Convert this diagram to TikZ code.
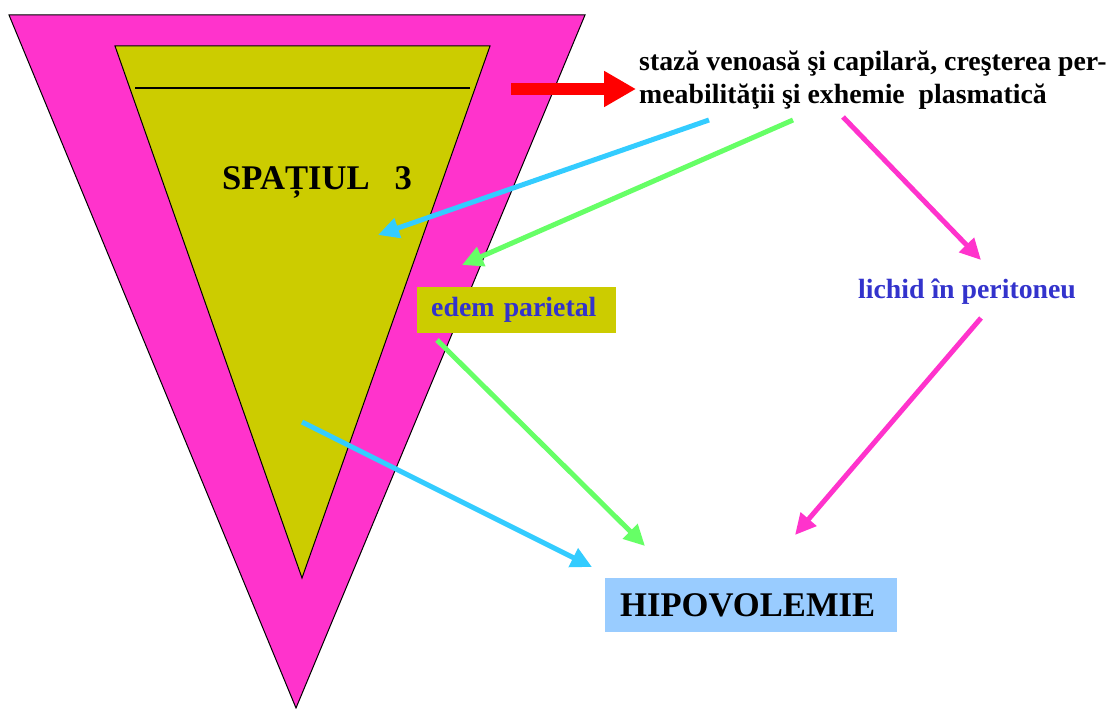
\documentclass[tikz,border=0pt]{standalone}
\usepackage{fontspec}
\setmainfont{Liberation Serif}
\usetikzlibrary{arrows.meta}
\definecolor{pinkT}{HTML}{FF33CC}
\definecolor{oliveT}{HTML}{CCCC00}
\definecolor{cyanA}{HTML}{33CCFF}
\definecolor{greenA}{HTML}{66FF66}
\definecolor{blueT}{HTML}{3333CC}
\definecolor{lightB}{HTML}{99CCFF}
\tikzset{
  conn/.style={line width=5pt, -{Triangle[length=21pt,width=20pt]}},
  txt/.style={font=\fontsize{27.8}{33}\selectfont\bfseries},
  bigtxt/.style={font=\fontsize{34.6}{40}\selectfont\bfseries},
}
\begin{document}
\begin{tikzpicture}[x=1pt,y=-1pt]
\useasboundingbox (0,0) rectangle (1116,709);
% triangles
\draw[fill=pinkT, draw=black, line width=1pt] (9,15) -- (585,15) -- (296,708) -- cycle;
\draw[fill=oliveT, draw=black, line width=1pt] (115,46) -- (490,46) -- (302,578) -- cycle;
\draw[black, line width=1.2pt] (135,88) -- (470,88);
\node[bigtxt, anchor=base west, inner sep=0] (sp) at (222,189) {SPAȚIUL\hspace{25pt}3};
% boxes
\node[txt, fill=oliveT, anchor=north west, inner xsep=14pt, inner ysep=0pt, text width=171pt, minimum height=46pt, text=blueT] (edem) at (417,287) {edem parietal};
\node[bigtxt, fill=lightB, anchor=north west, inner xsep=15pt, inner ysep=0pt, text width=262pt, minimum height=54pt] (hipo) at (605,578) {HIPOVOLEMIE};
\node[txt, text=blueT, inner sep=0] (lich) at (967,292) {lichid în peritoneu};
\node[txt, anchor=base west, inner sep=0, align=left] (top) at (639,103) {stază venoasă şi capilară, creşterea per-\\meabilităţii şi exhemie\hspace{6.9pt} plasmatică};
% red arrow
\coordinate (rs) at (511,89);
\coordinate (re) at (636,89);
\draw[red, line width=12pt, -{Triangle[length=32pt,width=34pt]}] (rs) -- (re);
% connectors
\coordinate (c1s) at (709,120); \coordinate (c1e) at (378,235);
\coordinate (g1s) at (793,120); \coordinate (g1e) at (462,265);
\coordinate (m1s) at (843,117); \coordinate (m1e) at (981,260);
\coordinate (g2s) at (437,340); \coordinate (g2e) at (645,546);
\coordinate (c2s) at (302,422); \coordinate (c2e) at (592,567);
\coordinate (m2s) at (981,318); \coordinate (m2e) at (795,535);
\draw[conn, cyanA] (c1s) -- (c1e);
\draw[conn, greenA] (g1s) -- (g1e);
\draw[conn, pinkT] (m1s) -- (m1e);
\draw[conn, greenA] (g2s) -- (g2e);
\draw[conn, cyanA] (c2s) -- (c2e);
\draw[conn, pinkT] (m2s) -- (m2e);
\end{tikzpicture}
\end{document}
